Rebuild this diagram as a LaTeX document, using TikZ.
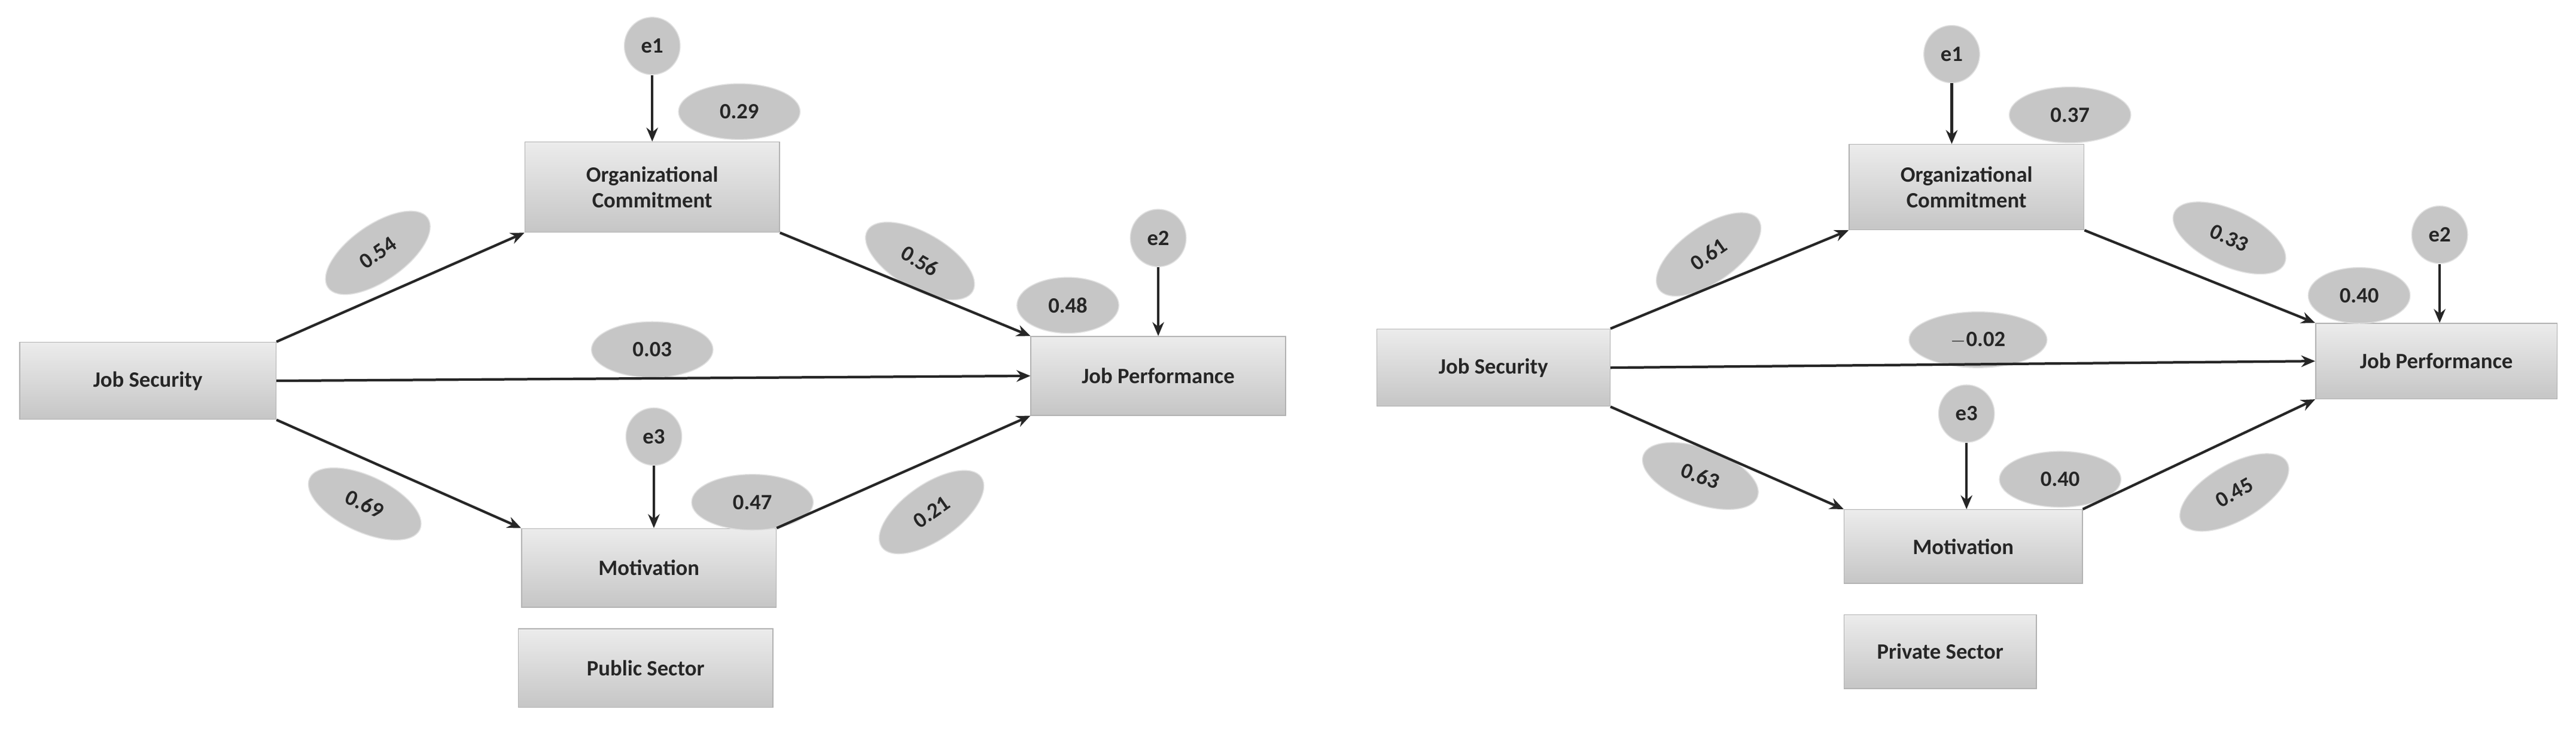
\documentclass[tikz,border=0pt]{standalone}
\usepackage{fontspec}
\setmainfont{Carlito}
\usetikzlibrary{shapes.geometric,arrows.meta}
\begin{document}
\begin{tikzpicture}[x=0.05cm,y=-0.05cm,
 box/.style={draw=gray!60,line width=0.8pt,top color=gray!15,bottom color=gray!45,inner sep=0,font=\fontsize{19}{22}\selectfont\bfseries,text=black!85,align=center},
 ell/.style={ellipse,draw=gray!25,line width=0.8pt,fill=gray!45,inner sep=0,minimum width=3.7cm,minimum height=1.7cm,font=\fontsize{19}{22}\selectfont\bfseries,text=black!85},
 err/.style={ell,minimum width=1.7cm,minimum height=1.75cm},
 arr/.style={-{Stealth[length=12pt,width=10pt]},line width=2.2pt,black!85}]
\useasboundingbox (0,0) rectangle (1568,445);
% Left panel
\node[box,minimum width=7.8cm,minimum height=2.35cm] (js) at (90,232) {Job Security};
\node[box,minimum width=7.75cm,minimum height=2.75cm] (oc) at (397,114) {Organizational\\Commitment};
\node[box,minimum width=7.75cm,minimum height=2.4cm] (jp) at (705,229) {Job Performance};
\node[box,minimum width=7.75cm,minimum height=2.4cm] (mot) at (395,346) {Motivation};
\node[box,minimum width=7.75cm,minimum height=2.4cm] (ps) at (393,407) {Public Sector};
\node[err] (e1) at (397,28) {e1};
\node[err] (e2) at (705,145) {e2};
\node[err] (e3) at (398,266) {e3};
\node[ell] (r1) at (450,68) {0.29};
\node[ell,minimum width=3.1cm] (r2) at (650,186) {0.48};
\node[ell] (r3) at (458,306) {0.47};
\node[ell,rotate=35] (p1) at (230,154) {0.54};
\node[ell,rotate=-30] (p2) at (560,159) {0.56};
\node[ell] (p3) at (397,213) {0.03};
\node[ell,rotate=-25] (p4) at (222,307) {0.69};
\node[ell,rotate=35] (p5) at (567,312) {0.21};
\draw[arr] (js.north east) -- (oc.south west);
\draw[arr] (js.east) -- (jp.west);
\draw[arr] (js.south east) -- (mot.north west);
\draw[arr] (mot.north east) -- (jp.south west);
\draw[arr] (oc.south east) -- (jp.north west);
\draw[arr] (e1) -- (e1 |- oc.north);
\draw[arr] (e2) -- (e2 |- jp.north);
\draw[arr] (e3) -- (e3 |- mot.north);
% Right panel
\node[box,minimum width=7.1cm,minimum height=2.35cm] (js2) at (909,224) {Job Security};
\node[box,minimum width=7.15cm,minimum height=2.6cm] (oc2) at (1197,114) {Organizational\\Commitment};
\node[box,minimum width=7.35cm,minimum height=2.3cm] (jp2) at (1483,220) {Job Performance};
\node[box,minimum width=7.25cm,minimum height=2.25cm] (mot2) at (1195,333) {Motivation};
\node[box,minimum width=5.85cm,minimum height=2.25cm] (ps2) at (1181,397) {Private Sector};
\node[err] (f1) at (1188,33) {e1};
\node[err] (f2) at (1485,143) {e2};
\node[err] (f3) at (1197,252) {e3};
\node[ell] (s1) at (1260,70) {0.37};
\node[ell,minimum width=3.1cm] (s2) at (1436,180) {0.40};
\node[ell] (s3) at (1254,292) {0.40};
\node[ell,rotate=35] (q1) at (1040,155) {0.61};
\node[ell,rotate=-25] (q2) at (1357,145) {0.33};
\node[ell,minimum width=4.2cm] (q3) at (1204,207) {$-$0.02};
\node[ell,rotate=-20] (q4) at (1035,290) {0.63};
\node[ell,rotate=30] (q5) at (1360,300) {0.45};
\draw[arr] (js2.north east) -- (oc2.south west);
\draw[arr] (js2.east) -- (jp2.west);
\draw[arr] (js2.south east) -- (mot2.north west);
\draw[arr] (mot2.north east) -- (jp2.south west);
\draw[arr] (oc2.south east) -- (jp2.north west);
\draw[arr] (f1) -- (f1 |- oc2.north);
\draw[arr] (f2) -- (f2 |- jp2.north);
\draw[arr] (f3) -- (f3 |- mot2.north);
\end{tikzpicture}
\end{document}
